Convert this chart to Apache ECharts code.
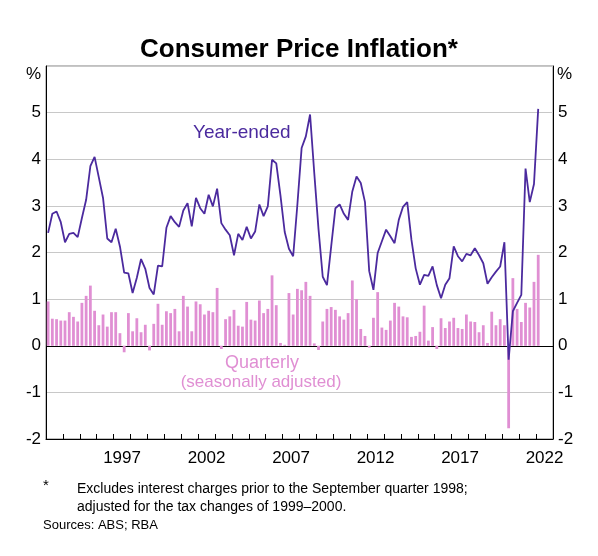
<!DOCTYPE html>
<html>
<head>
<meta charset="utf-8">
<script src="https://cdn.jsdelivr.net/npm/echarts@6.0.0/dist/echarts.min.js"></script>
<style>
  html, body { margin: 0; padding: 0; background: #fff; }
  #chart { width: 598px; height: 556px; }
</style>
</head>
<body>
<div id="chart"></div>
<script>
// year categories for the visible axis (ticks + labels)
const years = []
for (let y = 1993; y <= 2022; y++) years.push(String(y))

// quarter categories used by the series, 1993 Q1 .. 2022 Q4
const quarters = []
for (let y = 1993; y <= 2022; y++) {
  for (let q = 1; q <= 4; q++) quarters.push(y + ' Q' + q)
}

// year-ended inflation, %, 1993 Q1 .. 2022 Q1
const yearEnded = [
  2.42, 2.83, 2.88, 2.65,
  2.22, 2.40, 2.42, 2.33,
  2.74, 3.13, 3.85, 4.05,
  3.61, 3.17, 2.30, 2.22,
  2.51, 2.13, 1.57, 1.55,
  1.13, 1.46, 1.86, 1.65,
  1.24, 1.10, 1.72, 1.70,
  2.53, 2.78, 2.65, 2.55,
  2.90, 3.06, 2.56, 3.17,
  2.95, 2.83, 3.24, 2.99,
  3.37, 2.63, 2.49, 2.37,
  1.94, 2.40, 2.27, 2.55,
  2.30, 2.45, 3.03, 2.78,
  2.99, 3.99, 3.91, 3.22,
  2.44, 2.08, 1.92, 3.03,
  4.24, 4.49, 4.96, 3.70,
  2.50, 1.48, 1.30, 2.13,
  2.95, 3.03, 2.83, 2.70,
  3.31, 3.63, 3.49, 3.08,
  1.60, 1.20, 1.99, 2.24,
  2.49, 2.35, 2.20, 2.70,
  2.98, 3.08, 2.27, 1.66,
  1.31, 1.52, 1.50, 1.70,
  1.30, 1.02, 1.31, 1.45,
  2.13, 1.92, 1.81, 1.97,
  1.94, 2.09, 1.94, 1.77,
  1.33, 1.47, 1.59, 1.70,
  2.22, -0.30, 0.74, 0.92,
  1.09, 3.80, 3.08, 3.47,
  5.08
]

// quarterly inflation (seasonally adjusted), %, 1993 Q1 .. 2022 Q1
const quarterly = [
  0.95, 0.58, 0.57, 0.54,
  0.54, 0.72, 0.62, 0.52,
  0.92, 1.07, 1.29, 0.75,
  0.44, 0.67, 0.41, 0.72,
  0.72, 0.27, -0.14, 0.70,
  0.31, 0.59, 0.29, 0.45,
  -0.10, 0.47, 0.90, 0.45,
  0.74, 0.70, 0.79, 0.31,
  1.07, 0.84, 0.31, 0.95,
  0.89, 0.67, 0.75, 0.72,
  1.24, -0.07, 0.57, 0.63,
  0.77, 0.43, 0.41, 0.94,
  0.56, 0.54, 0.97, 0.70,
  0.79, 1.51, 0.87, 0.06,
  0.02, 1.13, 0.67, 1.22,
  1.19, 1.37, 1.07, 0.05,
  -0.09, 0.52, 0.79, 0.83,
  0.77, 0.63, 0.56, 0.70,
  1.40, 1.00, 0.36, 0.21,
  -0.04, 0.60, 1.15, 0.39,
  0.34, 0.54, 0.92, 0.84,
  0.63, 0.61, 0.19, 0.21,
  0.30, 0.86, 0.11, 0.40,
  -0.07, 0.59, 0.38, 0.52,
  0.60, 0.38, 0.36, 0.67,
  0.52, 0.51, 0.29, 0.44,
  0.06, 0.73, 0.44, 0.57,
  0.44, -1.77, 1.45, 0.79,
  0.51, 0.92, 0.82, 1.37,
  1.95
]

const yTicks = [-2, -1, 0, 1, 2, 3, 4, 5]

const lineColor = '#4b2a9e'
const barColor = '#e08fd3'
const gridColor = '#c8c8c8'
const font = 'Arial, "Liberation Sans", sans-serif'

// split line colours, one per tick from -2 to 6; the zero line is black
const splitColors = [gridColor, gridColor, '#000', gridColor, gridColor, gridColor, gridColor, gridColor, gridColor]

const chart = echarts.init(document.getElementById('chart'), null, { renderer: 'canvas' })

chart.setOption({
  animation: false,
  backgroundColor: '#fff',
  textStyle: { fontFamily: font },
  grid: {
    left: 46,
    right: 45,
    top: 66,
    bottom: 117,
    show: true,
    borderColor: '#808080',
    borderWidth: 1
  },
  xAxis: [{
    type: 'category',
    data: years,
    position: 'bottom',
    boundaryGap: true,
    axisLine: { show: true, onZero: false, lineStyle: { color: '#000', width: 1 } },
    axisTick: {
      show: true,
      inside: true,
      length: 5,
      interval: 0,
      alignWithLabel: false,
      lineStyle: { color: '#000' }
    },
    axisLabel: {
      interval: 0,
      formatter: v => ((Number(v) - 1997) % 5 === 0 ? v : ''),
      color: '#000',
      fontSize: 17,
      fontFamily: font,
      margin: 11
    },
    splitLine: { show: false }
  }, {
    type: 'category',
    data: quarters,
    show: false,
    boundaryGap: true,
    axisLine: { onZero: false }
  }],
  yAxis: [{
    type: 'value',
    position: 'left',
    min: -2,
    max: 6,
    interval: 1,
    axisLine: { show: true, lineStyle: { color: '#000' } },
    axisTick: { show: false },
    axisLabel: {
      formatter: v => (yTicks.indexOf(v) === -1 ? '' : String(v)),
      color: '#000',
      fontSize: 17,
      fontFamily: font,
      margin: 5
    },
    splitLine: { show: true, lineStyle: { color: splitColors, width: 1 } }
  }, {
    type: 'value',
    position: 'right',
    min: -2,
    max: 6,
    interval: 1,
    axisLine: { show: true, lineStyle: { color: '#000' } },
    axisTick: { show: false },
    axisLabel: {
      formatter: v => (yTicks.indexOf(v) === -1 ? '' : String(v)),
      color: '#000',
      fontSize: 17,
      fontFamily: font,
      margin: 5
    },
    splitLine: { show: false }
  }],
  series: [{
    name: 'Quarterly',
    type: 'bar',
    xAxisIndex: 1,
    yAxisIndex: 0,
    data: quarterly,
    barWidth: '66%',
    itemStyle: { color: barColor },
    z: 2
  }, {
    name: 'Year-ended',
    type: 'line',
    xAxisIndex: 1,
    yAxisIndex: 0,
    data: yearEnded,
    symbol: 'none',
    lineStyle: { color: lineColor, width: 1.8 },
    z: 3
  }],
  graphic: [
    {
      type: 'text', left: 'center', top: 37,
      style: { text: 'Consumer Price Inflation*', font: 'bold 26px ' + font, fill: '#000' }
    },
    { type: 'text', x: 26, y: 66, style: { text: '%', font: '17px ' + font, fill: '#000' } },
    { type: 'text', x: 557, y: 66, style: { text: '%', font: '17px ' + font, fill: '#000' } },
    { type: 'text', x: 193, y: 123, style: { text: 'Year-ended', font: '19px ' + font, fill: lineColor } },
    { type: 'text', x: 262, y: 354, style: { text: 'Quarterly', font: '18px ' + font, fill: barColor, align: 'center' } },
    { type: 'text', x: 261, y: 374, style: { text: '(seasonally adjusted)', font: '17px ' + font, fill: barColor, align: 'center' } },
    { type: 'text', x: 43, y: 478, style: { text: '*', font: '15px ' + font, fill: '#000' } },
    {
      type: 'text', x: 77, y: 480,
      style: {
        text: 'Excludes interest charges prior to the September quarter 1998;\nadjusted for the tax changes of 1999–2000.',
        font: '14px ' + font, fill: '#000', lineHeight: 18
      }
    },
    { type: 'text', x: 43, y: 519, style: { text: 'Sources: ABS; RBA', font: '13px ' + font, fill: '#000' } }
  ]
})
</script>
</body>
</html>
